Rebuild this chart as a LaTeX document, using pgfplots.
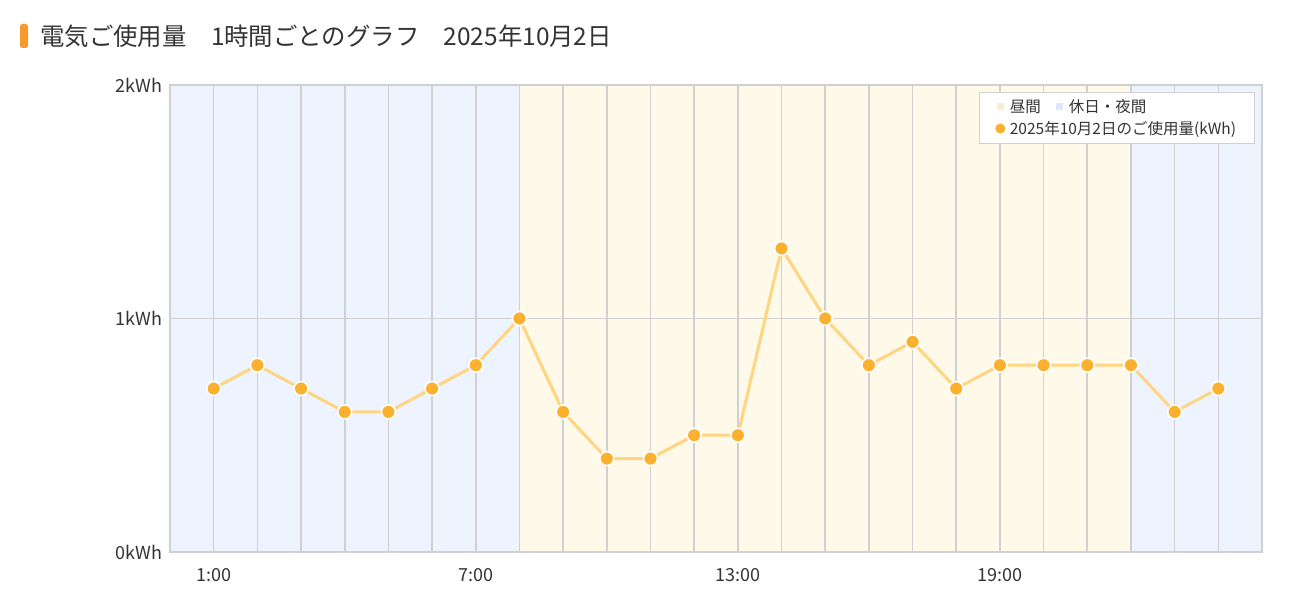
\documentclass[border=0pt]{standalone}
\usepackage{pgfplots}
\pgfplotsset{compat=1.18}
\usepackage{fontspec}
\setmainfont{Noto Sans CJK JP}
\definecolor{bandY}{HTML}{FFF9E9}
\definecolor{bandB}{HTML}{EEF4FF}
\definecolor{legY}{HTML}{F8EDCF}
\definecolor{legB}{HTML}{DDE6FA}
\definecolor{lineC}{HTML}{FFD581}
\definecolor{markC}{HTML}{FBB12F}
\definecolor{gridC}{HTML}{D0D0D0}
\definecolor{txt}{HTML}{333333}
\definecolor{accent}{HTML}{F79A2E}
\begin{document}
\begin{tikzpicture}
\path (0pt,0pt) rectangle (1297pt,602pt);
\fill[accent, rounded corners=2.5pt] (20pt,554pt) rectangle (28pt,578pt);
\node[anchor=base west, font=\fontsize{24.4}{28}\selectfont, text=txt, inner sep=0] at (40pt,556pt) {電気ご使用量　1時間ごとのグラフ　2025年10月2日};
\begin{axis}[
  at={(170pt,50pt)}, anchor=south west, scale only axis,
  width=1092pt, height=467pt,
  xmin=0, xmax=25, ymin=0, ymax=2,
  set layers,
  xtick={1,7,13,19}, xticklabels={1:00,7:00,13:00,19:00},
  minor xtick={1,...,24},
  ytick={0,1,2}, yticklabels={0kWh,1kWh,2kWh},
  xmajorgrids, xminorgrids, ymajorgrids,
  grid style={gridC, line width=1.6pt},
  minor grid style={gridC, line width=1.6pt},
  tick style={draw=none},
  axis line style={gridC, line width=1.6pt},
  tick label style={font=\fontsize{18}{21}\selectfont, text=txt},
  xticklabel style={yshift=-13pt},
  yticklabel style={xshift=-4pt},
  legend style={at={(0.9927,0.985)}, anchor=north east, draw=gridC, fill=white,
    font=\fontsize{15.5}{18}\selectfont, text=txt, row sep=3pt,
    inner xsep=16pt, inner ysep=5.5pt,
    /tikz/every even column/.append style={column sep=12pt}},
  legend columns=2,
  legend cell align=left,
]
\addplot[on layer=axis background, fill=bandB, draw=none, forget plot] coordinates {(0,0) (8,0) (8,2) (0,2)};
\addplot[on layer=axis background, fill=bandY, draw=none, forget plot] coordinates {(8,0) (22,0) (22,2) (8,2)};
\addplot[on layer=axis background, fill=bandB, draw=none, forget plot] coordinates {(22,0) (25,0) (25,2) (22,2)};
\addplot[lineC, line width=3pt, mark=*, mark size=7pt, mark options={fill=markC, draw=white, line width=1.6pt}, forget plot] coordinates {
(1,0.7) (2,0.8) (3,0.7) (4,0.6) (5,0.6) (6,0.7) (7,0.8) (8,1.0) (9,0.6) (10,0.4) (11,0.4) (12,0.5)
(13,0.5) (14,1.3) (15,1.0) (16,0.8) (17,0.9) (18,0.7) (19,0.8) (20,0.8) (21,0.8) (22,0.8) (23,0.6) (24,0.7)};
\addlegendimage{legend image code/.code={\path[draw=none,fill=none] (0pt,0pt) -- (12pt,0pt); \fill[legY,draw=none] (1pt,-3.5pt) rectangle (8pt,3.5pt);}}
\addlegendentry{昼間}
\addlegendimage{legend image code/.code={\path[draw=none,fill=none] (0pt,0pt) -- (12pt,0pt); \fill[legB,draw=none] (1pt,-3.5pt) rectangle (8pt,3.5pt);}}
\addlegendentry{\makebox[167pt][l]{休日・夜間}}
\addlegendimage{legend image code/.code={\path[draw=none,fill=none] (0pt,0pt) -- (12pt,0pt); \fill[markC,draw=none] (4.5pt,0pt) circle (5pt);}}
\addlegendentry{\makebox[0pt][l]{2025年10月2日のご使用量(kWh)}}
\end{axis}
\end{tikzpicture}
\end{document}
